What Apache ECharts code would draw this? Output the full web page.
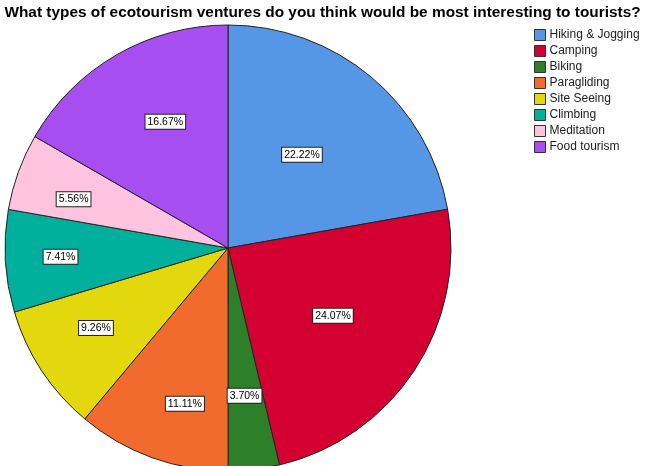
<!DOCTYPE html>
<html>
<head>
<meta charset="utf-8">
<script src="https://cdn.jsdelivr.net/npm/echarts@6/dist/echarts.min.js"></script>
<style>
  html, body { margin: 0; padding: 0; background: #fff; }
  #chart { width: 645px; height: 466px; }
</style>
</head>
<body>
<div id="chart"></div>
<script>
const categories = ['Hiking & Jogging', 'Camping', 'Biking', 'Paragliding', 'Site Seeing', 'Climbing', 'Meditation', 'Food tourism']
const percents = [22.22, 24.07, 3.70, 11.11, 9.26, 7.41, 5.56, 16.67]
const colors = ['#5596e6', '#d50032', '#2d7f2a', '#f26b2e', '#e2d80d', '#00b09c', '#fdc3df', '#a64ef0']
// label placement per slice: distance as a fraction of the radius, and angle nudge (degrees, clockwise)
const labelDist = [0.534, 0.56, 0.667, 0.725, 0.692, 0.752, 0.726, 0.632]
const labelTurn = [-1.6, -0.5, 0.3, -4.5, 2.2, 0.4, -2.5, 3.6]

const chart = echarts.init(document.getElementById('chart'), null, { renderer: 'canvas' })
const cx = 228, cy = 248, R = 223

chart.setOption({
  animation: false,
  textStyle: { fontFamily: 'Liberation Sans, Arial, sans-serif' },
  title: {
    text: 'What types of ecotourism ventures do you think would be most interesting to tourists?',
    left: 'center',
    top: 2,
    padding: [3, 0, 0, 0],
    textStyle: { fontSize: 15.4, fontWeight: 'bold', color: '#000', fontFamily: 'Liberation Sans, Arial, sans-serif' },
  },
  legend: {
    orient: 'vertical',
    left: 534,
    top: 27,
    padding: 0,
    itemWidth: 11,
    itemHeight: 11,
    itemGap: 0,
    icon: 'rect',
    data: categories,
    textStyle: { fontSize: 12, color: '#222', lineHeight: 16, padding: [0, 0, 0, -1] },
    itemStyle: { borderColor: '#333', borderWidth: 1 },
  },
  series: [{
    type: 'pie',
    center: [cx, cy],
    radius: R,
    startAngle: 90,
    clockwise: true,
    data: categories.map((c, i) => ({ name: c, value: percents[i], itemStyle: { color: colors[i] } })),
    itemStyle: { borderColor: '#222', borderWidth: 1 },
    label: {
      show: true,
      position: 'inside',
      formatter: p => p.value.toFixed(2) + '%',
      fontSize: 10.5,
      color: '#000',
      backgroundColor: '#fff',
      borderColor: '#222',
      borderWidth: 1,
      padding: [2, 2, 1, 2],
    },
    labelLayout: p => {
      const r = p.labelRect
      const dx = r.x + r.width / 2 - cx
      const dy = r.y + r.height / 2 - cy
      const a = Math.atan2(dy, dx) + labelTurn[p.dataIndex] * Math.PI / 180
      const d = labelDist[p.dataIndex] * R
      return { x: cx + Math.cos(a) * d, y: cy + Math.sin(a) * d, align: 'center', verticalAlign: 'middle' }
    },
    emphasis: { disabled: true },
  }],
})
</script>
</body>
</html>
